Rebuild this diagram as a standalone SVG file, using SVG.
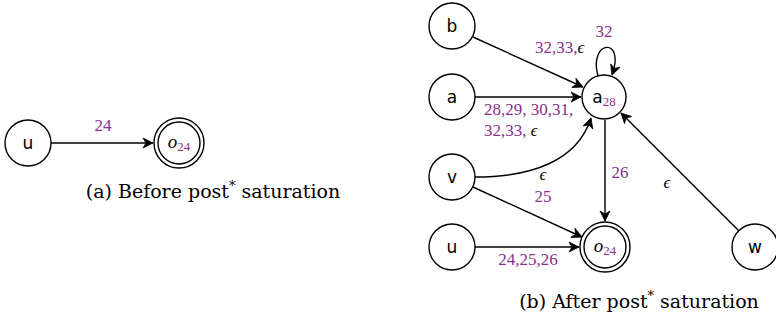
<svg xmlns="http://www.w3.org/2000/svg" width="776" height="321" viewBox="0 0 776 321">
<defs>
<marker id="arr" markerUnits="userSpaceOnUse" markerWidth="14" markerHeight="14" viewBox="-11 -7 14 14" refX="0" refY="0" orient="auto">
<path d="M0,0 L-10,-5 L-7,0 L-10,5 Z" fill="#000" stroke="#000" stroke-width="0.8" stroke-linejoin="round"/>
</marker>
</defs>
<style>
.n{fill:#fff;stroke:#000;stroke-width:1.4}
.e{fill:none;stroke:#000;stroke-width:1.4;marker-end:url(#arr)}
.nl{font-family:"DejaVu Sans","Liberation Sans",sans-serif;font-size:17px;fill:#000;text-anchor:middle}
.sub{font-family:"Liberation Serif",serif;font-size:13px;fill:#8a2f8e}
.o{font-family:"Liberation Serif",serif;font-style:italic;font-size:19px;fill:#000}
.lb{font-family:"Liberation Serif",serif;font-size:17px;fill:#8a2f8e}
.ep{fill:#000;font-style:italic}
.cap{font-family:"DejaVu Serif","Liberation Serif",serif;font-size:19px;fill:#000;text-anchor:middle}
</style>

<g id="edges">
<line class="e" x1="51" y1="143" x2="153" y2="143"/>
<line class="e" x1="473" y1="37" x2="583" y2="87"/>
<line class="e" x1="475" y1="97" x2="581" y2="97"/>
<path class="e" d="M598,76 C588,40 626,36 612,75"/>
<path class="e" d="M475,177 C530,177 577,162 591,118"/>
<line class="e" x1="473" y1="187" x2="582" y2="237"/>
<line class="e" x1="475" y1="247" x2="579" y2="247"/>
<line class="e" x1="605" y1="120" x2="605" y2="221"/>
<line class="e" x1="739" y1="231" x2="621" y2="113"/>
</g>

<g id="edge-labels">
<text class="lb" x="103" y="131" text-anchor="middle">24</text>
<text class="lb" x="535" y="53">32,33,<tspan class="ep">ϵ</tspan></text>
<text class="lb" x="604" y="37" text-anchor="middle">32</text>
<text class="lb" x="484" y="115">28,29, 30,31,</text>
<text class="lb" x="484" y="136">32,33, <tspan class="ep">ϵ</tspan></text>
<text class="lb ep" x="543" y="180" text-anchor="middle">ϵ</text>
<text class="lb" x="543" y="202" text-anchor="middle">25</text>
<text class="lb" x="528" y="265" text-anchor="middle">24,25,26</text>
<text class="lb" x="620" y="178" text-anchor="middle">26</text>
<text class="lb ep" x="667" y="188" text-anchor="middle">ϵ</text>
</g>

<g id="left-u">
<circle class="n" cx="28" cy="143" r="23"/>
<text class="nl" x="28" y="149">u</text>
</g>
<g id="left-o24">
<circle class="n" cx="179" cy="143" r="25"/>
<circle class="n" cx="179" cy="143" r="21"/>
<text x="179" y="148" text-anchor="middle"><tspan class="o">o</tspan><tspan class="sub" dy="3">24</tspan></text>
</g>

<g id="node-b">
<circle class="n" cx="452" cy="26" r="23"/>
<text class="nl" x="452" y="32">b</text>
</g>
<g id="node-a">
<circle class="n" cx="452" cy="97" r="23"/>
<text class="nl" x="452" y="103">a</text>
</g>
<g id="node-a28">
<circle class="n" cx="604" cy="97" r="22"/>
<text x="604" y="103" text-anchor="middle"><tspan class="nl">a</tspan><tspan class="sub" dy="3">28</tspan></text>
</g>
<g id="node-v">
<circle class="n" cx="452" cy="177" r="23"/>
<text class="nl" x="452" y="183">v</text>
</g>
<g id="node-u">
<circle class="n" cx="452" cy="247" r="23"/>
<text class="nl" x="452" y="253">u</text>
</g>
<g id="node-o24">
<circle class="n" cx="605" cy="247" r="25"/>
<circle class="n" cx="605" cy="247" r="21"/>
<text x="605" y="252" text-anchor="middle"><tspan class="o">o</tspan><tspan class="sub" dy="3">24</tspan></text>
</g>
<g id="node-w">
<circle class="n" cx="755" cy="247" r="23"/>
<text class="nl" x="755" y="253">w</text>
</g>

<g id="captions">
<text class="cap" x="213" y="198">(a) Before post<tspan font-size="13" dy="-8">*</tspan><tspan dy="8"> saturation</tspan></text>
<text class="cap" x="639" y="308">(b) After post<tspan font-size="13" dy="-8">*</tspan><tspan dy="8"> saturation</tspan></text>
</g>
</svg>
